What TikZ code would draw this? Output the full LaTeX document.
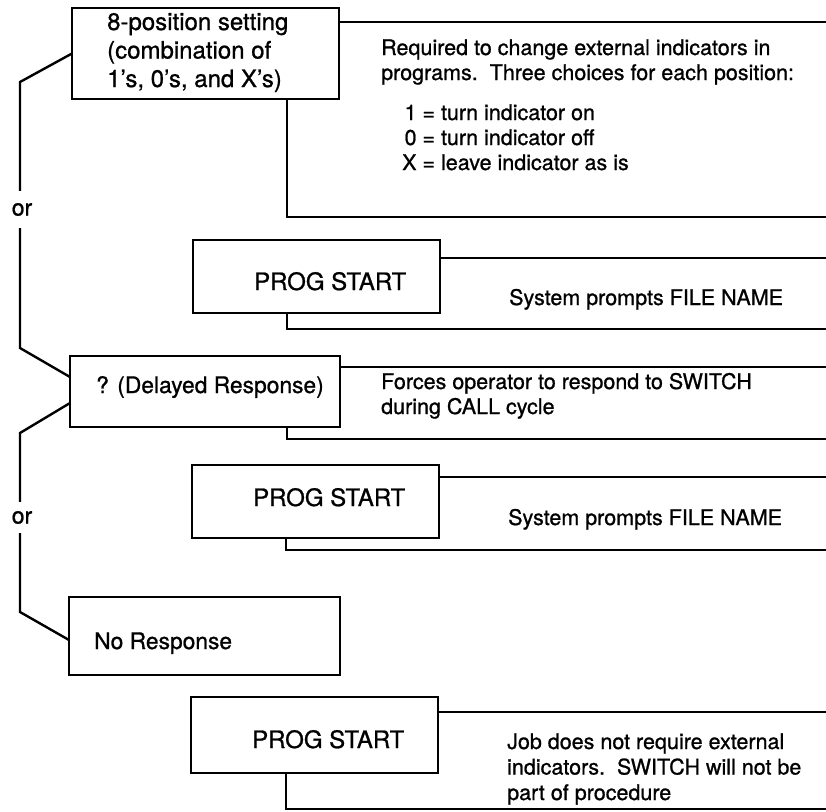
\documentclass[tikz,border=0pt]{standalone}
\usepackage{fontspec}
\setmainfont[FakeBold=0.9]{TeX Gyre Heros}
\usetikzlibrary{calc}
\begin{document}
\begin{tikzpicture}[x=1pt,y=-1pt,line width=2.4pt,line join=miter,
  stepbox/.style={draw,line width=2.4pt,inner sep=0pt,outer sep=0pt},
  boxlabel/.style={font=\fontsize{24}{28.5}\selectfont,inner sep=0pt,anchor=base west},
  narrowlabel/.style={boxlabel,font=\fontsize{22.8}{27}\selectfont},
  note/.style={font=\fontsize{21.5}{25}\selectfont,inner sep=0pt,anchor=base west},
  orlabel/.style={font=\fontsize{23}{27}\selectfont,inner sep=0pt}]

\useasboundingbox (0,0) rectangle (826,811);

% ---- option boxes on the left ----
\node[stepbox,minimum width=267pt,minimum height=91pt] (set)  at (205.5,53.5) {};
\node[stepbox,minimum width=270pt,minimum height=71pt] (delay) at (205,391.5) {};
\node[stepbox,minimum width=271pt,minimum height=78pt] (none) at (204.5,636) {};

% ---- PROG START boxes ----
\node[stepbox,minimum width=247pt,minimum height=73pt] (psA) at (316.5,276.5) {};
\node[stepbox,minimum width=247pt,minimum height=73pt] (psB) at (315.5,501.5) {};
\node[stepbox,minimum width=247pt,minimum height=76pt] (psC) at (314.5,735) {};

% ---- box texts ----
\node[boxlabel] (setA) at (106,30)   {8-position setting};
\node[boxlabel] (setB) at (106,58.5) {(combination of};
\node[boxlabel] (setC) at (106,87)   {1’s, 0’s, and X’s)};
\node[narrowlabel] (delayT) at (95,393) {? (Delayed Response)};
\node[narrowlabel] (noneT) at (93,649)  {No Response};
\node[boxlabel] (psAT) at (253,290)  {PROG START};
\node[boxlabel] (psBT) at (252,506)  {PROG START};
\node[boxlabel] (psCT) at (251,748)  {PROG START};

% ---- explanatory notes ----
\node[note] (n1a) at (380,55) {Required to change external indicators in};
\node[note] (n1b) at (380,80) {programs.\ \ Three choices for each position:};
\node[note] (n1c) at (401,120) {\begin{tabular}[t]{@{}r@{\ =\ }l@{}}
  1&turn indicator on\\
  0&turn indicator off\\
  X&leave indicator as is
\end{tabular}};
\node[note] (n2) at (508,305) {System prompts FILE NAME};
\node[note] (n3a) at (380,389) {Forces operator to respond to SWITCH};
\node[note] (n3b) at (380,414) {during CALL cycle};
\node[note] (n4) at (507,525) {System prompts FILE NAME};
\node[note] (n5a) at (506,749)   {Job does not require external};
\node[note] (n5b) at (506,774.5) {indicators.\ \ SWITCH will not be};
\node[note] (n5c) at (506,800)   {part of procedure};

% ---- "or" separators ----
\node[orlabel,minimum height=35pt] (or1) at (22,209.5) {or};
\node[orlabel,minimum height=29pt] (or2) at (22,517.5) {or};

% ---- left-hand choice line ----
\coordinate (k1) at (20,82);
\coordinate (k2) at (20,348);
\coordinate (k3) at (20,433);
\coordinate (k4) at (20,612);
\draw (set.west) -- (k1) -- (or1.north -| k1);
\draw (or1.south -| k2) -- (k2) -- ([yshift=14.5pt]delay.west);
\draw ([yshift=-11.5pt]delay.west) -- (k3) -- (or2.north -| k3);
\draw (or2.south -| k4) -- (k4) -- ([yshift=-4pt]none.west);

% ---- open brackets round each note ----
\coordinate (t1) at (826,22);   \coordinate (b1) at (287,217);
\coordinate (t2) at (826,258);  \coordinate (b2) at (287,329);
\coordinate (t3) at (826,367);  \coordinate (b3) at (287,439);
\coordinate (t4) at (826,477);  \coordinate (b4) at (286,550);
\coordinate (t5) at (826,712);  \coordinate (b5) at (286,809);

\draw (set.east |- t1) -- (t1);
\draw (set.south -| b1) -- (b1) -- (b1 -| t1);
\draw (psA.east |- t2) -- (t2);
\draw (psA.south -| b2) -- (b2) -- (b2 -| t2);
\draw (delay.east |- t3) -- (t3);
\draw (delay.south -| b3) -- (b3) -- (b3 -| t3);
\draw (psB.east |- t4) -- (t4);
\draw (psB.south -| b4) -- (b4) -- (b4 -| t4);
\draw (psC.east |- t5) -- (t5);
\draw (psC.south -| b5) -- (b5) -- (b5 -| t5);
\end{tikzpicture}
\end{document}
